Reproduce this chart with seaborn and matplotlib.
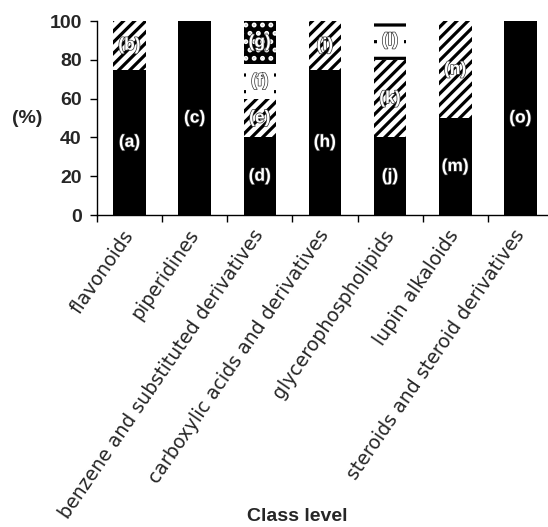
import numpy as np
import pandas as pd
import matplotlib
matplotlib.use("Agg")
import matplotlib.pyplot as plt
import matplotlib.patheffects as pe
import seaborn as sns

# Chemical classes on the x axis
categories = [
    "flavonoids",
    "piperidines",
    "benzene and substituted derivatives",
    "carboxylic acids and derivatives",
    "glycerophospholipids",
    "lupin alkaloids",
    "steroids and steroid derivatives",
]

# Share (%) of each sub-group within a class, bottom to top
solid_vals = [75, 100, 40, 75, 40, 50, 100]     # solid black
striped_vals = [25, 0, 20, 25, 40, 50, 0]        # diagonal stripes
dashed_vals = [0, 0, 18, 0, 20, 0, 0]            # white with dashes
dotted_vals = [0, 0, 22, 0, 0, 0, 0]             # black with white dots

# Letter tags for every non-empty segment, same layer order
solid_tags = ["(a)", "(c)", "(d)", "(h)", "(j)", "(m)", "(o)"]
striped_tags = ["(b)", "", "(e)", "(i)", "(k)", "(n)", ""]
dashed_tags = ["", "", "(f)", "", "(l)", "", ""]
dotted_tags = ["", "", "(g)", "", "", "", ""]

y_ticks = [0, 20, 40, 60, 80, 100]

sns.set_style("ticks")
plt.rcParams["font.family"] = ["Liberation Sans", "DejaVu Sans"]
plt.rcParams["hatch.linewidth"] = 2.3

fig = plt.figure(figsize=(5.48, 5.27), dpi=100)
ax = fig.add_axes([0.177, 0.592, 0.832, 0.368])

layers = [
    (solid_vals, solid_tags, dict(color="black", edgecolor="black", hatch=None)),
    (striped_vals, striped_tags, dict(color="white", edgecolor="black", hatch="///")),
    (dashed_vals, dashed_tags, dict(color="white", edgecolor="black", hatch="-")),
    (dotted_vals, dotted_tags, dict(color="black", edgecolor="white", hatch="..")),
]

vals = np.array([l[0] for l in layers], dtype=float)
tops = np.cumsum(vals, axis=0)
bottoms = tops - vals

# Stack by overlaying cumulative bars, highest layer first
for i in range(len(layers) - 1, -1, -1):
    v, tags, style = layers[i]
    heights = np.where(vals[i] > 0, tops[i], 0.0)
    df = pd.DataFrame({"cls": categories, "pct": heights})
    sns.barplot(data=df, x="cls", y="pct", ax=ax, width=0.5, saturation=1,
                errorbar=None, linewidth=0, **style)

# Segment tags
for i, (v, tags, style) in enumerate(layers):
    for j, tag in enumerate(tags):
        if not tag or vals[i, j] <= 0:
            continue
        y = bottoms[i, j] + vals[i, j] / 2
        kw = {}
        if style["hatch"] == "-":
            kw["bbox"] = dict(boxstyle="square,pad=0.3", fc="white", ec="none")
        ax.text(j, y, tag, ha="center", va="center", color="white",
                fontsize=12.5, fontweight="bold",
                path_effects=[pe.withStroke(linewidth=1.0, foreground="#333333")],
                zorder=5, **kw)

ax.set_xlim(-0.5, len(categories) - 0.5)
ax.set_ylim(0, 100)
ax.set_yticks(y_ticks)
ax.set_yticklabels([str(t) for t in y_ticks], fontsize=14, fontweight="bold")

ax.set_xticks(np.arange(len(categories) + 1) - 0.5)
ax.set_xticklabels([])
ax.set_xticks(np.arange(len(categories)), minor=True)
ax.set_xticklabels(categories, minor=True, rotation=55.5, ha="right", va="center",
                   rotation_mode="anchor", fontsize=13.6, family="DejaVu Sans")
ax.tick_params(axis="x", which="minor", length=0, pad=12)
ax.tick_params(axis="x", which="major", length=5, width=1, color="black")
ax.tick_params(axis="y", length=5, width=1, color="black", pad=6)

ax.set_xlabel("")
ax.set_ylabel("")
for s in ["top", "right"]:
    ax.spines[s].set_visible(False)
for s in ["left", "bottom"]:
    ax.spines[s].set_color("black")
    ax.spines[s].set_linewidth(1)

fig.text(0.05, 0.776, "(%)", ha="center", va="center", fontsize=14, fontweight="bold")
fig.text(0.542, 0.019, "Class level", ha="center", va="center", fontsize=14,
         fontweight="bold")

fig.savefig("out.png", dpi=100)
